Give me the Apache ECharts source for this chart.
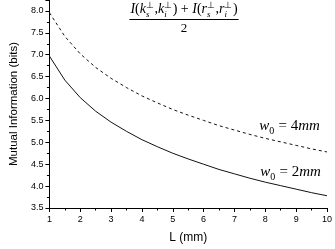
<!DOCTYPE html>
<html><head><meta charset="utf-8">
<script src="https://cdn.jsdelivr.net/npm/echarts@6/dist/echarts.min.js"></script>
<style>html,body{margin:0;padding:0;background:#fff}#c{width:335px;height:249px}</style>
</head><body><div id="c"></div>
<script>
const L = [1,1.5,2,2.5,3,3.5,4,4.5,5,5.5,6,6.5,7,7.5,8,8.5,9,9.5,10];
const w0_2mm = [6.97,6.42,6.02,5.71,5.46,5.25,5.06,4.90,4.75,4.62,4.50,4.38,4.28,4.18,4.09,4.01,3.93,3.85,3.78];
const w0_4mm = [7.96,7.42,7.02,6.71,6.46,6.25,6.06,5.90,5.75,5.62,5.50,5.38,5.28,5.18,5.09,5.01,4.93,4.85,4.78];
const xTicks = [1,2,3,4,5,6,7,8,9,10];

const serif = '"Liberation Serif","Times New Roman",serif';
const sans = '"Liberation Sans",Arial,sans-serif';
const ctx = document.createElement('canvas').getContext('2d');
function measure(t, font){ ctx.font = font; return ctx.measureText(t).width; }

// Lay out a math-like sequence of text pieces as graphic text elements
function layout(pieces, cx, baseY, size, scr){
  const out = []; let x = 0;
  const items = [];
  pieces.forEach(p=>{
    if (p.sup !== undefined || p.sub !== undefined){
      const f = `italic ${scr}px ${serif}`;
      const fs = `${scr}px ${serif}`;
      const subF = p.subItalic===false ? fs : f;
      const wsup = p.sup ? measure(p.sup, fs) : 0;
      const wsub = p.sub ? measure(p.sub, subF) : 0;
      if (p.sup) items.push({t:p.sup, x:x, y:baseY - size*0.40, font:fs, size:scr});
      if (p.sub) items.push({t:p.sub, x:x, y:baseY + size*0.22, font:subF, size:scr});
      x += Math.max(wsup, wsub) + 0.5;
    } else {
      const f = (p.i ? 'italic ' : '') + size + 'px ' + serif;
      items.push({t:p.t, x:x, y:baseY, font:f, size:size});
      x += measure(p.t, f);
    }
  });
  const x0 = cx - x/2;
  items.forEach(it=>{
    out.push({type:'text', x: x0 + it.x, y: it.y - it.size*0.34, silent:true,
      style:{text: it.t, font: it.font, fill:'#000', align:'left', verticalAlign:'middle'}});
  });
  return {els: out, width: x, x0: x0};
}

const num = layout([
  {t:'I',i:true},{t:'('},{t:'k',i:true},{sup:'⊥',sub:'s'},{t:','},{t:'k',i:true},{sup:'⊥',sub:'i'},{t:')'},
  {t:' + '},{t:'I',i:true},{t:'('},{t:'r',i:true},{sup:'⊥',sub:'s'},{t:','},{t:'r',i:true},{sup:'⊥',sub:'i'},{t:')'}
], 184, 14.5, 14, 9);
const lab4 = layout([{t:'w',i:true},{sub:'0',subItalic:false},{t:' = 4'},{t:'mm',i:true}], 289.5, 131, 15, 10);
const lab2 = layout([{t:'w',i:true},{sub:'0',subItalic:false},{t:' = 2'},{t:'mm',i:true}], 290.5, 177, 15, 10);

const graphics = [].concat(num.els, lab4.els, lab2.els, [
  {type:'line', silent:true, shape:{x1:num.x0-1, y1:19.5, x2:num.x0+num.width+1, y2:19.5}, style:{stroke:'#000', lineWidth:1}},
  {type:'text', x:184, y:33 - 13*0.34, silent:true, style:{text:'2', font:`13px ${serif}`, fill:'#000', align:'center', verticalAlign:'middle'}}
]);

const chart = echarts.init(document.getElementById('c'), null, {renderer:'canvas'});
chart.setOption({
  animation:false,
  grid:{left:42, right:5, top:0, bottom:37.5, containLabel:false},
  xAxis:{
    type:'value', min:xTicks[0], max:xTicks[xTicks.length-1], interval:1,
    name:'L (mm)', nameLocation:'middle', nameGap:24,
    nameTextStyle:{fontFamily:sans, fontSize:12, color:'#000'},
    axisLine:{show:true, onZero:false, lineStyle:{color:'#000', width:1}},
    axisTick:{show:true, inside:false, length:4, lineStyle:{color:'#000'}},
    minorTick:{show:true, splitNumber:2, length:2.5, lineStyle:{color:'#000'}},
    axisLabel:{margin:7, fontFamily:sans, fontSize:9, color:'#000'},
    splitLine:{show:false}
  },
  yAxis:{
    type:'value', min:3.5, max:8.25, interval:0.5,
    name:'Mutual Information (bits)', nameLocation:'middle', nameGap:28,
    nameTextStyle:{fontFamily:sans, fontSize:11.5, color:'#000'},
    axisLine:{show:true, onZero:false, lineStyle:{color:'#000', width:1}},
    axisTick:{show:true, inside:false, length:4, lineStyle:{color:'#000'}},
    minorTick:{show:true, splitNumber:2, length:2.5, lineStyle:{color:'#000'}},
    axisLabel:{margin:6, fontFamily:sans, fontSize:9, color:'#000',
      formatter:v => (Math.abs(v*2 - Math.round(v*2))<1e-6 ? v.toFixed(1) : '')},
    splitLine:{show:false}
  },
  series:[
    {type:'line', data:L.map((x,i)=>[x,w0_4mm[i]]), showSymbol:false, smooth:false,
     lineStyle:{color:'#111', width:1, type:[3,3]}},
    {type:'line', data:L.map((x,i)=>[x,w0_2mm[i]]), showSymbol:false, smooth:false,
     lineStyle:{color:'#111', width:1, type:'solid'}}
  ],
  graphic: graphics
});
</script></body></html>
